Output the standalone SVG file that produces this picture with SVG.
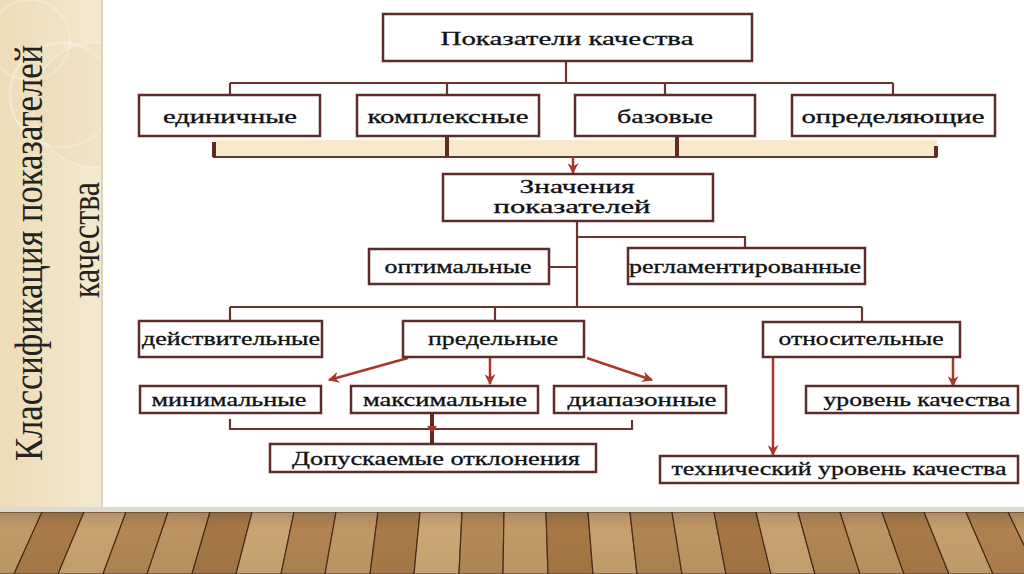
<svg xmlns="http://www.w3.org/2000/svg" width="1024" height="574" viewBox="0 0 1024 574">
<defs>
<linearGradient id="panel" x1="0" y1="0" x2="1" y2="0">
<stop offset="0" stop-color="#ecdcb8"/>
<stop offset="1" stop-color="#f4e9cf"/>
</linearGradient>
<linearGradient id="floorShade" x1="0" y1="0" x2="0" y2="1">
<stop offset="0" stop-color="#000" stop-opacity="0.12"/>
<stop offset="0.3" stop-color="#000" stop-opacity="0"/>
<stop offset="1" stop-color="#000" stop-opacity="0.04"/>
</linearGradient>
<clipPath id="panelClip"><rect x="0" y="0" width="102" height="507"/></clipPath>
<marker id="arr" viewBox="0 0 10 10" refX="9" refY="5" markerWidth="11" markerHeight="11" markerUnits="userSpaceOnUse" orient="auto">
<path d="M0,0 L10,5 L0,10 L3,5 Z" fill="#a8372d"/>
</marker>
<style>
.box{fill:#fff;stroke:#5e2b2b;stroke-width:2.5}
.t{font-family:"Liberation Serif","Times New Roman",serif;font-size:19px;fill:#111;text-anchor:middle;stroke:#111;stroke-width:0.3}
.ln{fill:none;stroke:#6a3530;stroke-width:2.2}
.thick{fill:none;stroke:#5e2b25;stroke-width:4}
.ar{fill:none;stroke:#a8372d;stroke-width:2.5;marker-end:url(#arr)}
.side{font-family:"Liberation Serif","Times New Roman",serif;font-size:40px;fill:#222}
.plank{stroke:#4a2e1a;stroke-width:1.2}
</style>
</defs>

<!-- background -->
<rect x="0" y="0" width="1024" height="574" fill="#ffffff"/>
<rect x="0" y="0" width="102" height="507" fill="url(#panel)"/>
<g clip-path="url(#panelClip)">
<circle cx="62" cy="95" r="52" fill="none" stroke="#ffffff" stroke-opacity="0.3" stroke-width="3"/>
<circle cx="95" cy="105" r="62" fill="#e2cfa4" fill-opacity="0.18" stroke="#ffffff" stroke-opacity="0.25" stroke-width="2"/>
<circle cx="30" cy="40" r="40" fill="none" stroke="#ffffff" stroke-opacity="0.25" stroke-width="2"/>
</g>
<line x1="102" y1="0" x2="102" y2="507" stroke="#d6c9a9" stroke-width="1.5"/>

<!-- floor -->
<g id="floor">
<rect x="0" y="510" width="1024" height="64" fill="#b68c5b"/>
<polygon class="plank" points="-42,512 0,512 -31,574 -75,574" fill="#b08352"/>
<polygon class="plank" points="0,512 42,512 14,574 -31,574" fill="#c29a69"/>
<polygon class="plank" points="42,512 84,512 58,574 14,574" fill="#a97b49"/>
<polygon class="plank" points="84,512 126,512 103,574 58,574" fill="#c9a271"/>
<polygon class="plank" points="126,512 168,512 147,574 103,574" fill="#b38755"/>
<polygon class="plank" points="168,512 210,512 192,574 147,574" fill="#bd9362"/>
<polygon class="plank" points="210,512 252,512 236,574 192,574" fill="#a57746"/>
<polygon class="plank" points="252,512 294,512 281,574 236,574" fill="#caa474"/>
<polygon class="plank" points="294,512 336,512 325,574 281,574" fill="#b08452"/>
<polygon class="plank" points="336,512 378,512 370,574 325,574" fill="#c09867"/>
<polygon class="plank" points="378,512 420,512 414,574 370,574" fill="#a87b49"/>
<polygon class="plank" points="420,512 462,512 459,574 414,574" fill="#cca676"/>
<polygon class="plank" points="462,512 504,512 503,574 459,574" fill="#b48957"/>
<polygon class="plank" points="504,512 546,512 548,574 503,574" fill="#c29a69"/>
<polygon class="plank" points="546,512 588,512 593,574 548,574" fill="#a67946"/>
<polygon class="plank" points="588,512 630,512 637,574 593,574" fill="#c8a070"/>
<polygon class="plank" points="630,512 672,512 682,574 637,574" fill="#b08452"/>
<polygon class="plank" points="672,512 714,512 726,574 682,574" fill="#bf9665"/>
<polygon class="plank" points="714,512 756,512 771,574 726,574" fill="#a47645"/>
<polygon class="plank" points="756,512 798,512 815,574 771,574" fill="#c9a272"/>
<polygon class="plank" points="798,512 840,512 860,574 815,574" fill="#b28654"/>
<polygon class="plank" points="840,512 882,512 904,574 860,574" fill="#bd9463"/>
<polygon class="plank" points="882,512 924,512 949,574 904,574" fill="#a87a48"/>
<polygon class="plank" points="924,512 966,512 993,574 949,574" fill="#c69f6e"/>
<polygon class="plank" points="966,512 1008,512 1038,574 993,574" fill="#ae8150"/>
<polygon class="plank" points="1008,512 1050,512 1082,574 1038,574" fill="#be9564"/>
<rect x="0" y="510" width="1024" height="64" fill="url(#floorShade)"/>
<rect x="0" y="507" width="1024" height="5" fill="#dcd9d3"/>
</g>

<!-- side title -->
<g id="side-title">
<text class="side" transform="translate(42,253) rotate(-90)" text-anchor="middle" textLength="416" lengthAdjust="spacingAndGlyphs">Классификация показателей</text>
<text class="side" transform="translate(99,240) rotate(-90)" text-anchor="middle" textLength="116" lengthAdjust="spacingAndGlyphs">качества</text>
</g>

<!-- connectors -->
<g id="connectors">
<rect x="213" y="140" width="724" height="17" fill="#f8e9cc"/>
<path class="ln" d="M566,61 V83 M230,83 H893 M230,83 V95 M447,83 V95 M665,83 V95 M893,83 V95"/>
<path class="ln" d="M213,157 H937"/>
<path class="thick" d="M214,142 V157 M447,136 V157 M677,136 V157 M936,146 V157"/>
<path class="ar" d="M573,157 V173" stroke-width="3"/>
<path class="ln" d="M577,221 V307 M577,237 H745 V248 M549,267 H577"/>
<path class="ln" d="M230,307 H862 M230,307 V321 M495,307 V321 M862,307 V322"/>
<path class="ar" d="M408,358 L329,380"/>
<path class="ar" d="M490,358 V384"/>
<path class="ar" d="M587,358 L652,380"/>
<path class="ar" d="M953,357 V386"/>
<path class="ar" d="M773,357 V455"/>
<path class="ln" d="M230,419 V429 H632 V420"/>
<path class="thick" d="M432,413 V444" stroke-width="5"/>
<path d="M427,426 L437,426 L432,433 Z" fill="#a8372d"/>
</g>

<!-- nodes -->
<g id="n-top"><rect class="box" x="383" y="14" width="369" height="47"/><text class="t" x="567" y="45" font-size="20" textLength="253" lengthAdjust="spacingAndGlyphs">Показатели качества</text></g>
<g id="n-edin"><rect class="box" x="139" y="95" width="181" height="41"/><text class="t" x="230" y="123" textLength="134" lengthAdjust="spacingAndGlyphs">единичные</text></g>
<g id="n-kompl"><rect class="box" x="357" y="95" width="182" height="41"/><text class="t" x="448" y="123" textLength="161" lengthAdjust="spacingAndGlyphs">комплексные</text></g>
<g id="n-baz"><rect class="box" x="575" y="95" width="180" height="41"/><text class="t" x="665" y="123" textLength="96" lengthAdjust="spacingAndGlyphs">базовые</text></g>
<g id="n-opred"><rect class="box" x="792" y="95" width="203" height="41"/><text class="t" x="893" y="123" textLength="183" lengthAdjust="spacingAndGlyphs">определяющие</text></g>
<g id="n-znach"><rect class="box" x="443" y="174" width="270" height="47"/><text class="t" x="577" y="193" textLength="115" lengthAdjust="spacingAndGlyphs">Значения</text><text class="t" x="572" y="213" textLength="157" lengthAdjust="spacingAndGlyphs">показателей</text></g>
<g id="n-optim"><rect class="box" x="369" y="249" width="180" height="35"/><text class="t" x="458" y="273" textLength="147" lengthAdjust="spacingAndGlyphs">оптимальные</text></g>
<g id="n-regl"><rect class="box" x="628" y="248" width="237" height="36"/><text class="t" x="745" y="273" textLength="232" lengthAdjust="spacingAndGlyphs">регламентированные</text></g>
<g id="n-deist"><rect class="box" x="139" y="321" width="183" height="36"/><text class="t" x="231" y="345" textLength="178" lengthAdjust="spacingAndGlyphs">действительные</text></g>
<g id="n-pred"><rect class="box" x="403" y="321" width="181" height="36"/><text class="t" x="493" y="345" textLength="130" lengthAdjust="spacingAndGlyphs">предельные</text></g>
<g id="n-otn"><rect class="box" x="763" y="322" width="197" height="35"/><text class="t" x="861" y="345" textLength="165" lengthAdjust="spacingAndGlyphs">относительные</text></g>
<g id="n-min"><rect class="box" x="140" y="386" width="181" height="27"/><text class="t" x="229" y="406" textLength="155" lengthAdjust="spacingAndGlyphs">минимальные</text></g>
<g id="n-max"><rect class="box" x="351" y="386" width="187" height="27"/><text class="t" x="445" y="406" textLength="164" lengthAdjust="spacingAndGlyphs">максимальные</text></g>
<g id="n-diap"><rect class="box" x="554" y="386" width="172" height="27"/><text class="t" x="642" y="406" textLength="149" lengthAdjust="spacingAndGlyphs">диапазонные</text></g>
<g id="n-urov"><rect class="box" x="806" y="386" width="212" height="27"/><text class="t" x="917" y="406" textLength="187" lengthAdjust="spacingAndGlyphs">уровень качества</text></g>
<g id="n-dop"><rect class="box" x="270" y="444" width="326" height="28"/><text class="t" x="436" y="465" textLength="288" lengthAdjust="spacingAndGlyphs">Допускаемые отклонения</text></g>
<g id="n-tech"><rect class="box" x="660" y="456" width="358" height="27"/><text class="t" x="839" y="475" textLength="335" lengthAdjust="spacingAndGlyphs">технический уровень качества</text></g>
</svg>
